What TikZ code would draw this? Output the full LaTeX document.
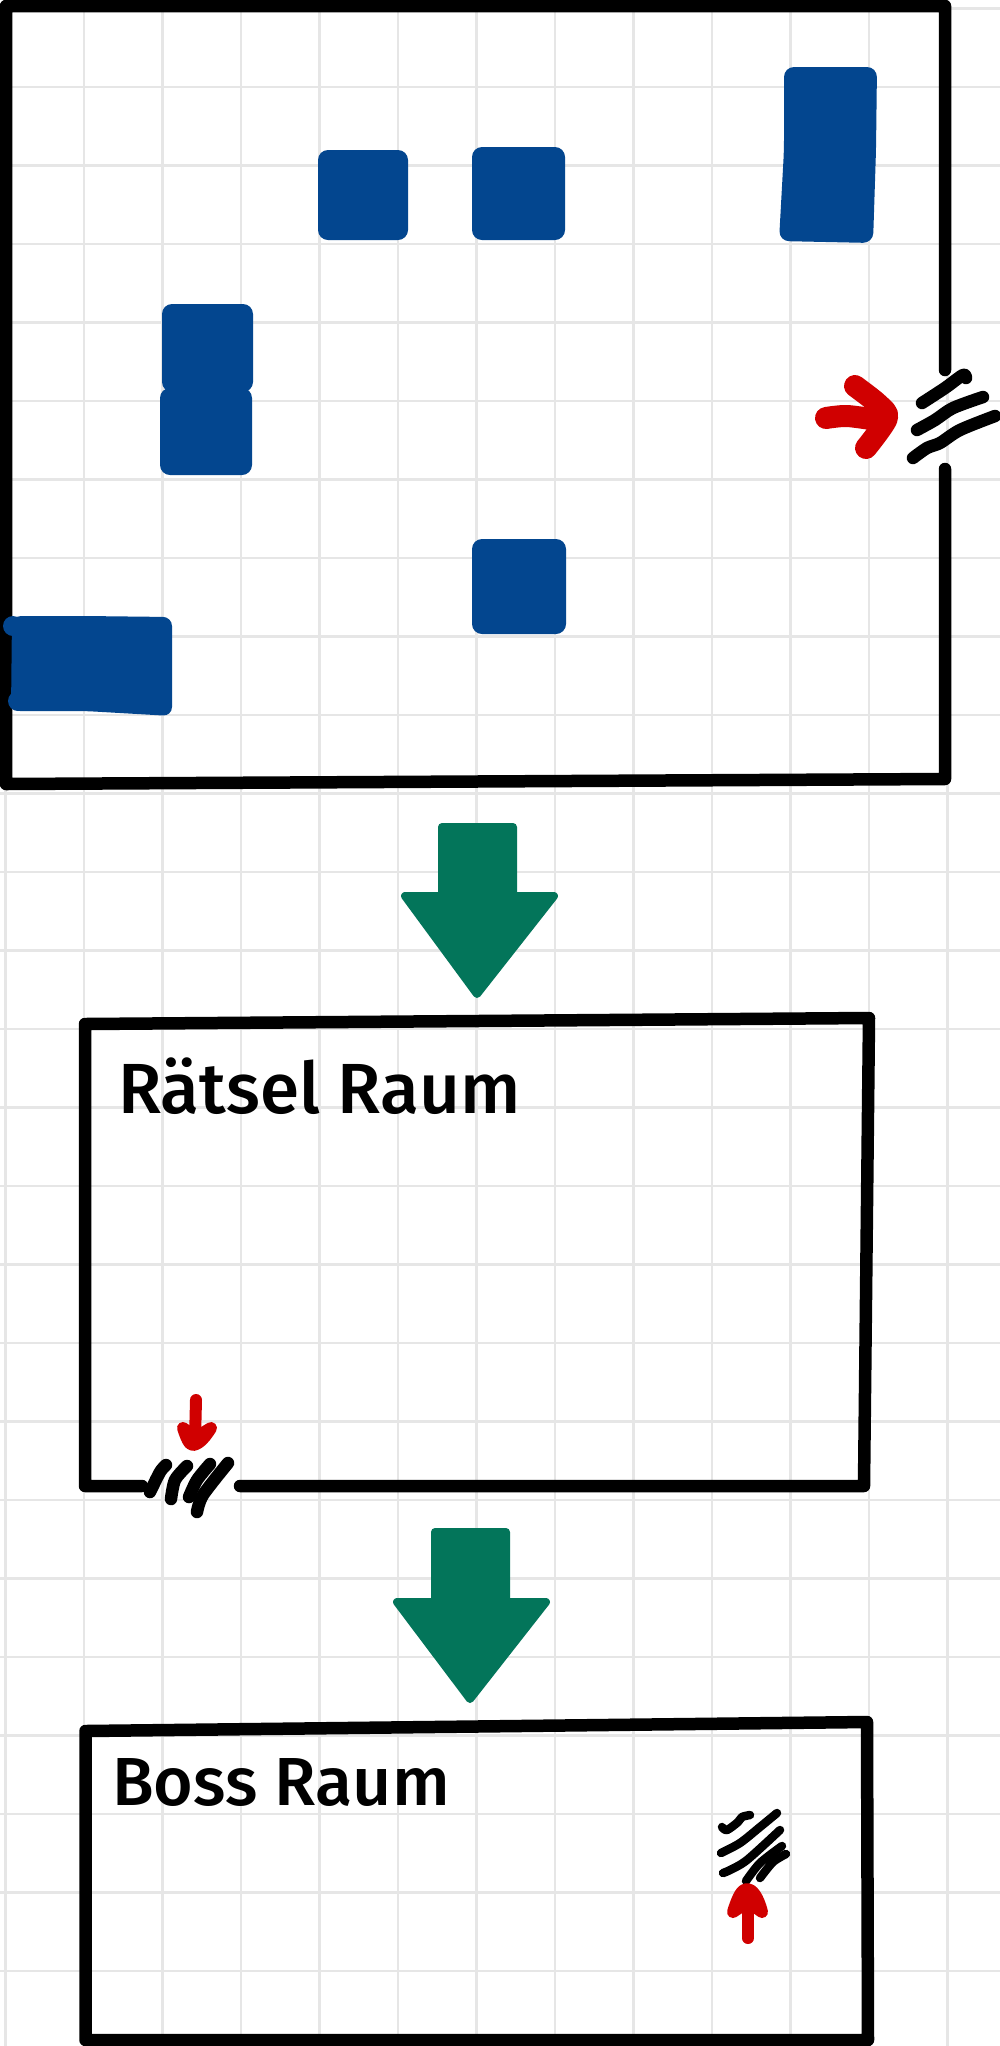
\documentclass[tikz,border=0pt]{standalone}
\usepackage{fontspec}
\setmainfont{Fira Sans}
\newfontfamily\handfont{Fira Sans Medium}
\definecolor{gridc}{HTML}{E6E6E6}
\definecolor{blueb}{HTML}{03468F}
\definecolor{greenb}{HTML}{03755A}
\definecolor{redb}{HTML}{D00000}
\tikzset{
  wall/.style={draw=black,line width=12.5pt,line cap=round,line join=round},
  hatch/.style={draw=black,line width=12.5pt,line cap=round,line join=round},
  fine/.style={draw=black,line width=8.5pt,line cap=round,line join=round},
  redmark/.style={draw=redb,line width=22pt,line cap=round,line join=round},
  redsmall/.style={draw=redb,fill=redb,line width=12pt,line cap=round,line join=round},
  block/.style={fill=blueb,rounded corners=10pt},
  bigarrow/.style={fill=greenb,draw=greenb,line width=8pt,line join=round},
  hand/.style={text=black,inner sep=0pt,anchor=base west}
}
\begin{document}
\begin{tikzpicture}[x=1pt,y=-1pt]
\useasboundingbox (0,0) rectangle (1000,2046);
\fill[white] (0,0) rectangle (1000,2046);
\foreach \k in {0,...,12} \draw[gridc,line width=2.5pt] ({5.5+78.5*\k},0) -- ({5.5+78.5*\k},2046);
\foreach \k in {0,...,25} \draw[gridc,line width=2.5pt] (0,{8.5+78.5*\k}) -- (1000,{8.5+78.5*\k});
% room 1
\draw[wall] (945,370) -- (945,6) -- (6,6) -- (6,784) -- (945,779) -- (945,469);
\fill[block] (318,150) rectangle (408,240);
\fill[block] (472,147) rectangle (565,240);
\fill[block] (784,67) -- (877,67) -- (876,150) -- (873,243) -- (779,241) -- (784,150) -- cycle;
\fill[block] (162,304) rectangle (253,392);
\fill[block] (160,388) rectangle (252,475);
\fill[block] (472,539) rectangle (566,634);
\fill[blueb,rounded corners=9pt] (12,616) -- (85,616) -- (172,617) -- (172,716) -- (85,711) -- (11,711) -- cycle;
\fill[blueb] (13,626) circle[radius=10pt];
\fill[blueb] (18,701) circle[radius=10pt];
\draw[hatch] plot[smooth] coordinates {(922,403) (945,388) (963,375) (966,378)};
\draw[hatch] plot[smooth] coordinates {(917,430) (935,420) (953,408) (983,397)};
\draw[hatch] plot[smooth] coordinates {(913,458) (927,448) (940,443) (960,430) (995,416)};
\draw[redmark] plot[smooth] coordinates {(826,418) (847,416) (877,420)};
\draw[redmark] plot[smooth] coordinates {(855,386) (878,404) (887,418) (866,448)};
% first arrow
\path[bigarrow] (442,827) -- (513,827) -- (513,896) -- (554,896) -- (477,994) -- (405,896) -- (442,896) -- cycle;
% room 2
\draw[wall] (142,1486) -- (85,1486) -- (85,1024) -- (869,1018) -- (864,1486) -- (240,1486);
\draw[hatch] plot[smooth] coordinates {(150,1492) (160,1472) (166,1465)};
\draw[hatch] plot[smooth] coordinates {(171,1499) (175,1480) (187,1466)};
\draw[hatch] plot[smooth] coordinates {(189,1497) (197,1480) (210,1464)};
\draw[hatch] plot[smooth] coordinates {(197,1512) (203,1495) (228,1463)};
\draw[redsmall] (196,1400) -- (195,1440);
\draw[redsmall] (183,1428) .. controls (186,1437) and (189,1445) .. (193,1445) .. controls (200,1444) and (206,1436) .. (211,1428) -- (196,1437) -- cycle;
\node[hand,font=\handfont\fontsize{71pt}{80pt}\selectfont] (raetsel) at (118,1113) {Rätsel Raum};
% second arrow
\path[bigarrow] (435,1532) -- (506,1532) -- (506,1602) -- (546,1602) -- (470,1699) -- (397,1602) -- (435,1602) -- cycle;
% room 3
\draw[wall] (85.5,2040) -- (85.5,1731) -- (867,1722) -- (868,2040) -- cycle;
\node[hand,font=\handfont\fontsize{68pt}{80pt}\selectfont] (boss) at (112,1805) {Boss Raum};
\draw[fine] plot[smooth] coordinates {(722,1827) (727,1830) (738,1822) (742,1817) (750,1815)};
\draw[fine] plot[smooth] coordinates {(721,1853) (740,1843) (760,1827) (777,1813)};
\draw[fine] plot[smooth] coordinates {(723,1873) (730,1870) (747,1860) (780,1830)};
\draw[fine] plot[smooth] coordinates {(746,1881) (760,1863) (782,1846)};
\draw[fine] plot[smooth] coordinates {(760,1878) (773,1862) (786,1854)};
\draw[redsmall] (748,1938) -- (748,1895);
\draw[redsmall] (733,1912) .. controls (738,1896) and (742,1889) .. (747,1889) .. controls (752,1889) and (758,1896) .. (762,1912) -- (748,1902) -- cycle;
\end{tikzpicture}
\end{document}
